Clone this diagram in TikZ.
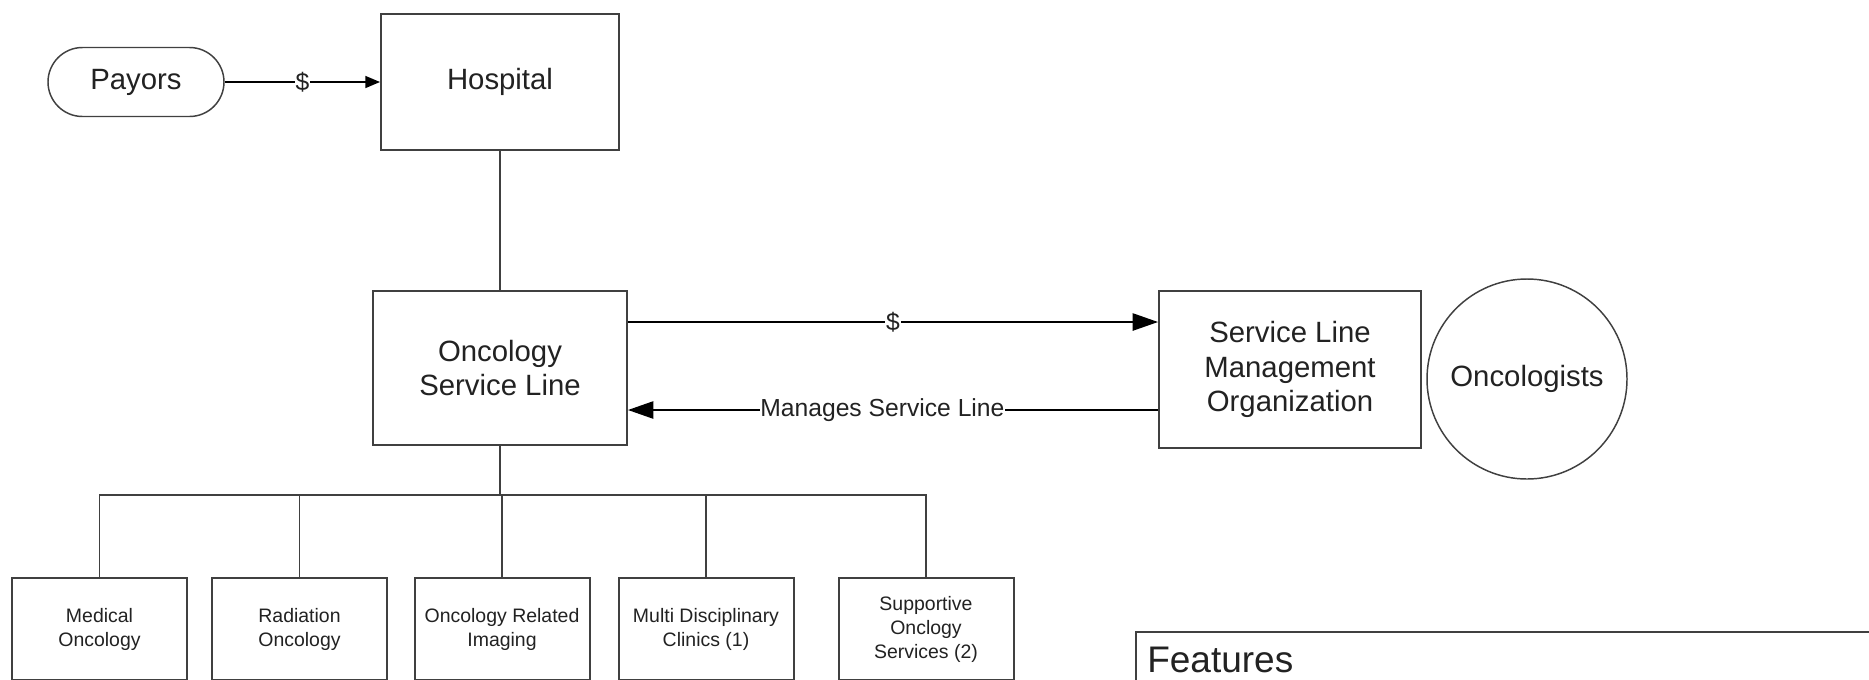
\documentclass[tikz,border=0pt]{standalone}
\usepackage{fontspec}
\setmainfont{Liberation Sans}
\usetikzlibrary{arrows.meta,shapes.misc}
\definecolor{boxgray}{HTML}{404040}
\definecolor{txt}{HTML}{222222}
\tikzset{
  mainfont/.style={font=\fontsize{22}{26}\selectfont},
  smallfont/.style={font=\fontsize{14.6}{18}\selectfont},
  box/.style={draw=boxgray, line width=1.5pt, fill=white, inner sep=0pt,
    align=center, text=txt, mainfont},
  subbox/.style={box, smallfont, minimum width=131.25pt, minimum height=76.5pt},
  pill/.style={draw=boxgray, line width=1.1pt, rounded rectangle, inner sep=0pt,
    minimum width=132pt, minimum height=51.75pt, text=txt, mainfont},
  roundnode/.style={draw=boxgray, line width=1.1pt, circle, inner sep=0pt,
    minimum size=150pt, text=txt, mainfont},
  conn/.style={draw=black, line width=1.1pt},
  arrsmall/.style={conn, -{Triangle[length=11pt,width=9pt]}},
  arrbig/.style={conn, -{Triangle[length=19pt,width=13pt]}},
  lbl/.style={fill=white, inner sep=0.6pt, text=txt, font=\fontsize{18.5}{22}\selectfont},
  tree/.style={draw=boxgray, line width=1.4pt},
}
\begin{document}
\begin{tikzpicture}[x=0.75pt,y=-0.75pt]
\fill[white] (0,0) rectangle (1869,679);
\useasboundingbox (0,0) rectangle (1869,679);
\clip (0,0) rectangle (1869,679);

% top nodes
\node[pill] (payors) at (136,82) {Payors};
\node[box, minimum width=178.5pt, minimum height=102pt] (hospital) at (500,82) {Hospital};
\node[box, minimum width=190.5pt, minimum height=115.5pt] (osl) at (500,368) {Oncology\\Service Line};
\node[box, minimum width=196.5pt, minimum height=117.75pt] (slm) at (1290,369.5) {Service Line\\Management\\Organization};
\node[roundnode] (onc) at (1527,379) {Oncologists};

% sub boxes
\node[subbox] (med) at (99.5,629) {Medical\\Oncology};
\node[subbox] (rad) at (299.5,629) {Radiation\\Oncology};
\node[subbox] (img) at (502,629) {Oncology Related\\Imaging};
\node[subbox] (mdc) at (706,629) {Multi Disciplinary\\Clinics (1)};
\node[subbox] (sup) at (926,629) {Supportive\\Onclogy\\Services (2)};

% features box
\draw[draw=boxgray, line width=1.5pt, fill=white] (1136,632) rectangle (1900,720);
\node[anchor=west, inner sep=0pt, text=txt, font=\fontsize{27.75}{32}\selectfont] (feat) at (1147,660) {Features};

% connectors
\draw[arrsmall] (payors.east) -- (hospital.west) node[lbl, midway] {\$};
\draw[tree] (hospital.south) -- (osl.north);

\coordinate (d1) at ([yshift=-24pt]osl.north east);
\draw[arrbig] (d1) -- (d1 -| slm.west) node[lbl, midway] {\$};

\coordinate (m1) at ([yshift=27pt]osl.south east);
\draw[arrbig] (m1 -| slm.west) -- (m1) node[lbl, pos=0.52] {Manages Service Line};

\coordinate (bus) at (500,495);
\draw[tree, line width=2pt] (osl.south) -- (bus);
\foreach \c in {med,rad,img,mdc,sup}{
  \draw[tree] (\c.north) |- (bus);
}
\end{tikzpicture}
\end{document}
